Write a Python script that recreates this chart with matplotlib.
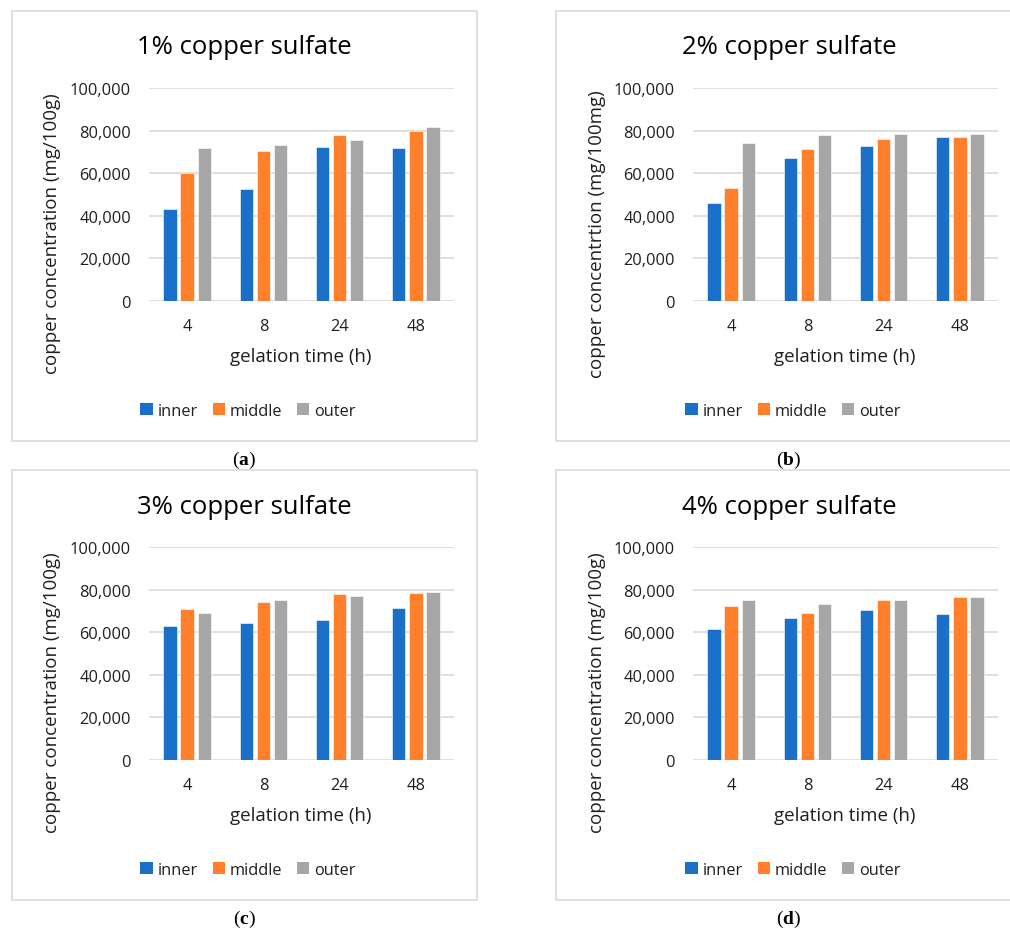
import numpy as np
import matplotlib
matplotlib.use('Agg')
import matplotlib.pyplot as plt
from matplotlib.ticker import FuncFormatter
from matplotlib.patches import Rectangle, Patch

plt.rcParams['font.family'] = ['Open Sans', 'DejaVu Sans']
plt.rcParams['mathtext.fontset'] = 'custom'
plt.rcParams['mathtext.rm'] = 'Liberation Serif'
plt.rcParams['mathtext.bf'] = 'Liberation Serif:bold'

# data
times = ['4', '8', '24', '48']
series = ['inner', 'middle', 'outer']

cu1_inner = [43000, 52400, 72500, 71800]
cu1_middle = [60100, 70400, 77800, 79800]
cu1_outer = [72000, 73100, 75700, 81800]

cu2_inner = [46000, 67100, 72900, 77000]
cu2_middle = [53200, 71500, 76200, 76800]
cu2_outer = [74300, 78100, 78400, 78200]

cu3_inner = [62800, 64400, 65800, 71300]
cu3_middle = [71000, 74100, 77900, 78500]
cu3_outer = [68800, 74900, 77200, 78800]

cu4_inner = [61500, 66600, 70200, 68400]
cu4_middle = [72100, 69200, 75000, 76300]
cu4_outer = [75200, 73200, 74900, 76600]

titles = ['1% copper sulfate', '2% copper sulfate', '3% copper sulfate', '4% copper sulfate']
ylabels = ['copper concentration (mg/100g)', 'copper concentrtion (mg/100mg)',
           'copper concentration (mg/100g)', 'copper concentration (mg/100g)']
sublabels = ['a', 'b', 'c', 'd']
yticks = [0, 20000, 40000, 60000, 80000, 100000]

colors = ['#1A70C8', '#FF7F2A', '#A6A6A6']

W, H = 1010, 929
fig = plt.figure(figsize=(W / 100, H / 100), dpi=100)

data = [(cu1_inner, cu1_middle, cu1_outer), (cu2_inner, cu2_middle, cu2_outer),
        (cu3_inner, cu3_middle, cu3_outer), (cu4_inner, cu4_middle, cu4_outer)]

# pixel layout of each panel: (frame left, frame top, axes left, axes top, centre x)
panels = [(12, 12, 149, 89, 244), (556, 12, 693, 89, 789),
          (12, 471, 149, 548, 244), (556, 471, 693, 548, 789)]

def fx(px):
    return px / W

def fy(py):
    return 1 - py / H

x = np.arange(len(times))
step = 0.224
width = 0.175

for i in range(4):
    frL, frT, axL, axT, cx = panels[i]
    # light frame round each chart
    fig.patches.append(Rectangle((fx(frL), fy(frT + 430)), fx(465), 430 / H,
                                 transform=fig.transFigure, fill=False,
                                 edgecolor='#D9D9D9', linewidth=1.2))
    ax = fig.add_axes([fx(axL), fy(axT + 213), fx(305), 213 / H])
    for j, vals in enumerate(data[i]):
        ax.bar(x + (j - 1) * step, vals, width, color=colors[j],
               edgecolor='white', linewidth=0.4, zorder=3)
    ax.set_xlim(-0.5, 3.5)
    ax.set_ylim(0, 100000)
    ax.set_yticks(yticks)
    ax.yaxis.set_major_formatter(FuncFormatter(lambda v, p: f'{v:,.0f}'))
    ax.set_xticks(x)
    ax.set_xticklabels(times)
    ax.grid(axis='y', color='#D9D9D9', linewidth=1.2, zorder=0)
    for s in ax.spines.values():
        s.set_visible(False)
    ax.tick_params(length=0, labelsize=11.8, colors='#1f1f1f')
    ax.tick_params(axis='y', pad=13)
    ax.tick_params(axis='x', pad=12)

    fig.text(fx(cx), fy(axT - 41), titles[i], ha='center', va='center',
             fontsize=18.5, color='black')
    fig.text(fx(frL + 40 if i % 2 == 0 else frL + 41), fy(axT + 145), ylabels[i],
             rotation=90, ha='center', va='center', fontsize=13.5, color='#1f1f1f')
    fig.text(fx(axL + 152), fy(axT + 268), 'gelation time (h)', ha='center', va='center',
             fontsize=13.5, color='#1f1f1f')
    handles = [Patch(facecolor=colors[j], label=series[j]) for j in range(3)]
    fig.legend(handles=handles, loc='center', ncol=3, frameon=False,
               bbox_to_anchor=(fx(cx + 4), fy(axT + 323)), fontsize=11.8,
               handlelength=0.75, handleheight=0.75, handletextpad=0.3,
               columnspacing=0.9, labelcolor='#1f1f1f')
    fig.text(fx(cx), fy(frT + 448), r'$\mathrm{(}\mathbf{' + sublabels[i] + r'}\mathrm{)}$',
             ha='center', va='center', fontsize=14)

fig.savefig('out.png', dpi=100, facecolor='white')
